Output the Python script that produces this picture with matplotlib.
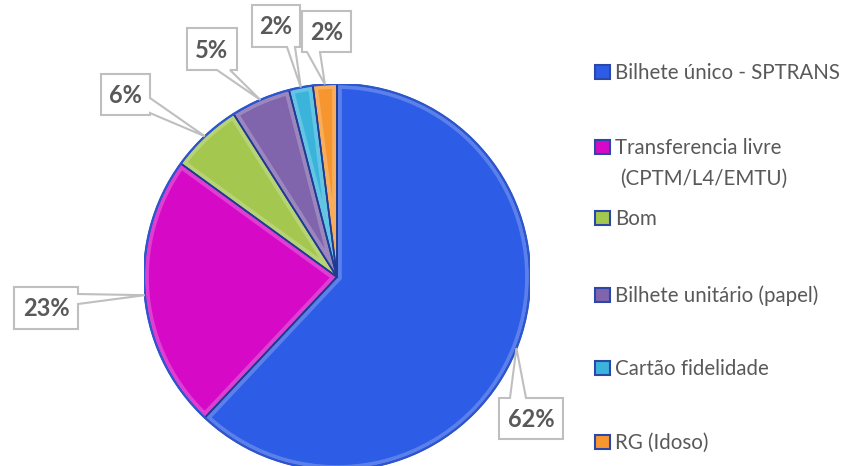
import numpy as np
import matplotlib.pyplot as plt
from matplotlib.patches import Polygon, Rectangle, PathPatch

# data
categories = ['Bilhete único - SPTRANS', 'Transferencia livre\n(CPTM/L4/EMTU)', 'Bom',
              'Bilhete unitário (papel)', 'Cartão fidelidade', 'RG (Idoso)']
shares = [62, 23, 6, 5, 2, 2]
colors = ['#2D5DE6', '#D60AC6', '#A3C74F', '#8064AC', '#3AB4DA', '#F7962F']

# label box layout in pixels: left, top, right, bottom, side of pointer, pointer span
boxes = [(499, 398, 563, 439, 'top', 510, 526),
         (14, 287, 78, 329, 'right', 294, 304),
         (101, 74, 150, 115, 'right', 98, 113),
         (187, 28, 237, 70, 'bottom', 217, 230),
         (252, 5, 300, 47, 'bottom', 287, 295),
         (302, 11, 351, 52, 'bottom', 307, 320)]
legend_rows = [72, 147, 218, 295, 368, 442]

W, H = 853, 466
cx, cy, r = 337, 277, 193
txt_col = '#595959'

fig = plt.figure(figsize=(W / 100, H / 100), dpi=100)
ax = fig.add_axes([(cx - r) / W, (H - cy - r) / H, 2 * r / W, 2 * r / H])
wedges, _ = ax.pie(shares, colors=colors, startangle=90, counterclock=False,
                   wedgeprops=dict(linewidth=0))
ax.set_xlim(-1, 1)
ax.set_ylim(-1, 1)

# soft bevel inside each slice, then the dark slice borders
for w in wedges:
    bev = PathPatch(w.get_path(), fill=False, edgecolor='white', alpha=0.22,
                    linewidth=7, zorder=2)
    ax.add_patch(bev)
    bev.set_clip_path(w)
    ax.add_patch(PathPatch(w.get_path(), fill=False, edgecolor='#1F3A93',
                           linewidth=1.2, zorder=3))
rim = plt.Circle((0, 0), 1, fill=False, edgecolor='#2C55D0', linewidth=1.6, zorder=4)
ax.add_patch(rim)

# overlay in pixel coordinates
ov = fig.add_axes([0, 0, 1, 1])
ov.set_xlim(0, W)
ov.set_ylim(H, 0)
ov.axis('off')


def tip_of(w):
    th = np.deg2rad((w.theta1 + w.theta2) / 2)
    px, py = ax.transData.transform((np.cos(th), np.sin(th)))
    return px, H - py


def callout(box, tip):
    l, t, rr, b, side, b0, b1 = box
    if side == 'top':
        pts = [(l, t), (b0, t), tip, (b1, t), (rr, t), (rr, b), (l, b)]
    elif side == 'right':
        pts = [(l, t), (rr, t), (rr, b0), tip, (rr, b1), (rr, b), (l, b)]
    else:
        pts = [(l, t), (rr, t), (rr, b), (b1, b), tip, (b0, b), (l, b)]
    ov.add_patch(Polygon(pts, closed=True, facecolor='white', edgecolor='#BFBFBF',
                         linewidth=1.5, zorder=3))


for w, v, box in zip(wedges, shares, boxes):
    callout(box, tip_of(w))
    ov.text((box[0] + box[2]) / 2, (box[1] + box[3]) / 2 + 1, f'{v}%', ha='center', va='center',
            fontsize=17, fontweight='bold', color=txt_col, family='Lato', zorder=4)

# legend
for lab, col, y in zip(categories, colors, legend_rows):
    ov.add_patch(Rectangle((595, y - 7), 15, 14, facecolor=col, edgecolor='#2B47A8',
                           linewidth=1.5, zorder=3))
    for i, line in enumerate(lab.split('\n')):
        ov.text(615 if i == 0 else 620, y + 7 + i * 31, line, ha='left', va='baseline',
                fontsize=14.8, color=txt_col, family='Lato')

fig.savefig('out.png', dpi=100)
